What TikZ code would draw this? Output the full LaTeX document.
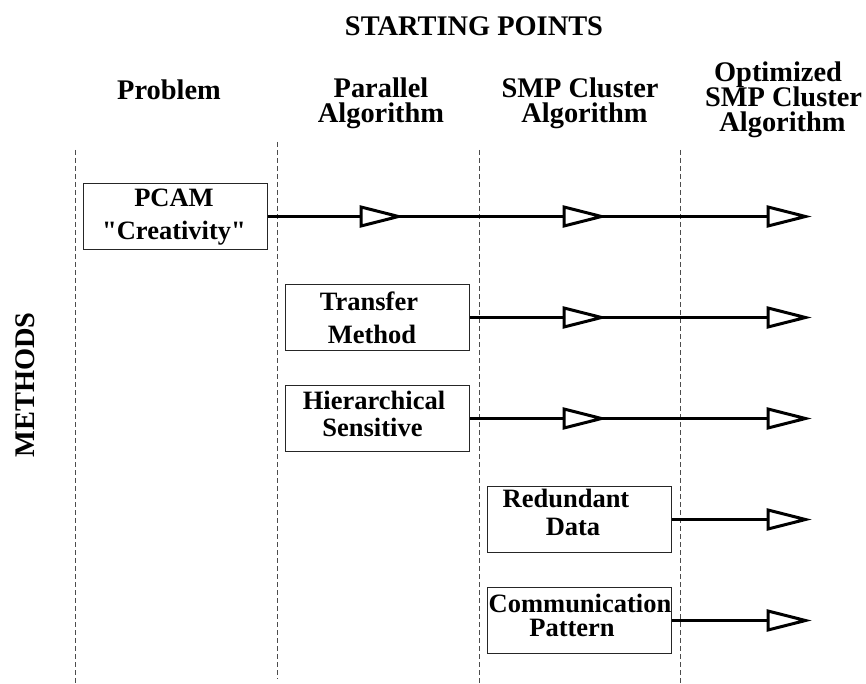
\documentclass[tikz,border=0pt]{standalone}
\usepackage{fontspec}
\setmainfont{Liberation Serif}
\begin{document}
\begin{tikzpicture}[x=1pt,y=1pt,
  hdr/.style={font=\fontsize{28.4}{30}\selectfont\bfseries, inner sep=0pt, anchor=base},
  lbl/.style={font=\fontsize{26.5}{28}\selectfont\bfseries, inner sep=0pt, anchor=base},
  methodbox/.style={draw=black!85, line width=1.2pt, minimum width=184pt, minimum height=66pt, inner sep=0pt},
  divider/.style={draw=black!70, line width=1pt, dash pattern=on 5pt off 3pt},
  flow/.style={line width=3pt},
  opentri/.pic={\draw[line width=3pt, fill=white] (-37.5,9.5) -- (0,0) -- (-37.5,-9.5) -- cycle;}
]
\useasboundingbox (0,0) rectangle (866,-684);

% column dividers
\draw[divider] (75,-150) -- (75,-684);
\draw[divider] (277,-142) -- (277,-679);
\draw[divider] (479,-150) -- (479,-684);
\draw[divider] (680,-150) -- (680,-684);

% headings
\node[hdr] (start) at (474,-36) {STARTING POINTS};
\node[hdr] (hProb) at (169,-100) {Problem};
\node[hdr] (hPar1) at (381,-98) {Parallel};
\node[hdr] (hPar2) at (381,-123) {Algorithm};
\node[hdr] (hSmp1) at (580,-98) {SMP Cluster};
\node[hdr] (hSmp2) at (584.5,-123) {Algorithm};
\node[hdr] (hOpt1) at (778,-82) {Optimized};
\node[hdr] (hOpt2) at (783.5,-107) {SMP Cluster};
\node[hdr] (hOpt3) at (782.5,-132) {Algorithm};
\node[hdr, anchor=center, rotate=90] (methods) at (25,-385) {METHODS};

% method boxes
\node[methodbox] (pcam) at (175.5,-216.5) {};
\node[methodbox] (transfer) at (377.5,-317.5) {};
\node[methodbox] (hier) at (377.5,-418.5) {};
\node[methodbox] (redund) at (579.5,-519.5) {};
\node[methodbox] (comm) at (579.5,-620.5) {};

% box labels
\node[lbl] (pcamA) at (174,-207) {PCAM};
\node[lbl] (pcamB) at (174,-240) {\textquotedbl Creativity\textquotedbl};
\node[lbl] (transA) at (369,-310) {Transfer};
\node[lbl] (transB) at (372,-343) {Method};
\node[lbl] (hierA) at (374,-409) {Hierarchical};
\node[lbl] (hierB) at (372.5,-436) {Sensitive};
\node[lbl] (redA) at (566,-507) {Redundant};
\node[lbl] (redB) at (573,-535) {Data};
\node[lbl] (commA) at (580,-612) {Communication};
\node[lbl] (commB) at (572,-636) {Pattern};

% flow lines
\coordinate (end1) at (805.5,-216.5);
\coordinate (end2) at (805.5,-317.5);
\coordinate (end3) at (805.5,-418.5);
\coordinate (end4) at (805.5,-519.5);
\coordinate (end5) at (805.5,-620.5);
\draw[flow] (pcam.east) -- (end1);
\draw[flow] (transfer.east) -- (end2);
\draw[flow] (hier.east) -- (end3);
\draw[flow] (redund.east) -- (end4);
\draw[flow] (comm.east) -- (end5);

% open triangle heads
\pic at (398.5,-216.5) {opentri};
\pic at (601.5,-216.5) {opentri};
\pic at (end1) {opentri};
\pic at (601.5,-317.5) {opentri};
\pic at (end2) {opentri};
\pic at (601.5,-418.5) {opentri};
\pic at (end3) {opentri};
\pic at (end4) {opentri};
\pic at (end5) {opentri};
\end{tikzpicture}
\end{document}
